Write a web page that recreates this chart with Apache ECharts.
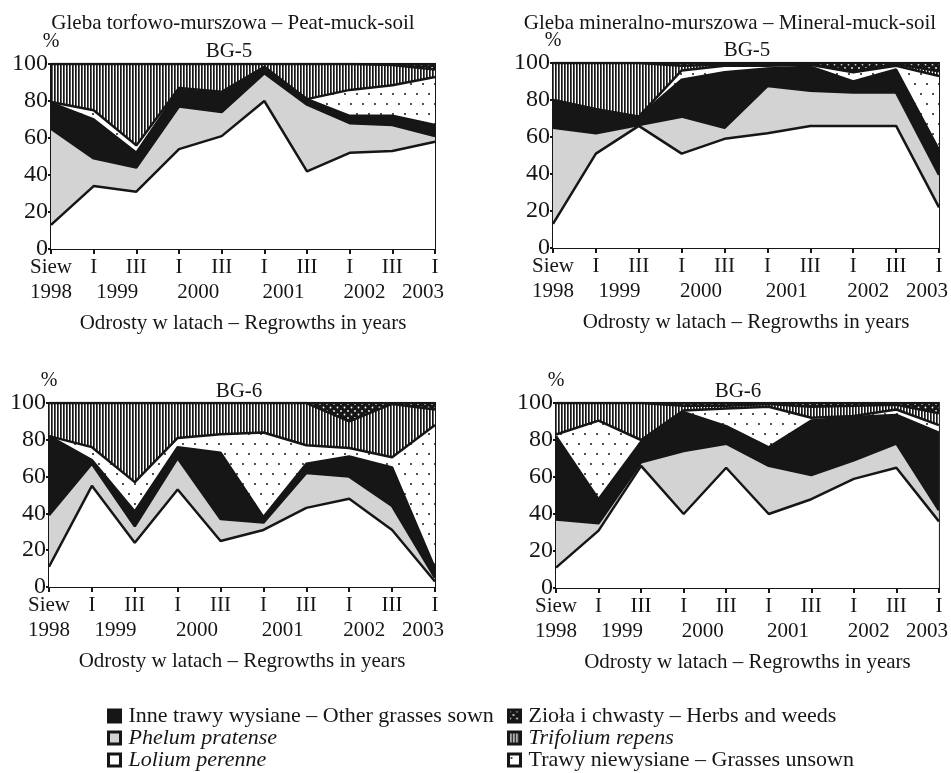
<!DOCTYPE html>
<html><head><meta charset="utf-8">
<script src="https://cdn.jsdelivr.net/npm/echarts@6/dist/echarts.min.js"></script>
<style>html,body{margin:0;padding:0;background:#fff}#c{width:951px;height:773px}</style>
</head><body><div id="c"></div>
<script>
// ---------- DATA ----------
const seriesNames = ['Lolium perenne', 'Phelum pratense', 'Inne trawy wysiane – Other grasses sown',
  'Trawy niewysiane – Grasses unsown', 'Trifolium repens', 'Zioła i chwasty – Herbs and weeds'];
const cutLabels = ['Siew', 'I', 'III', 'I', 'III', 'I', 'III', 'I', 'III', 'I'];
const yearLabels = ['1998', '1999', '2000', '2001', '2002', '2003'];
const yearPos = [0, 1.55, 3.45, 5.45, 7.35, 8.72];

// Peat-muck-soil, BG-5 (share of each component, %)
const peat5Lolium   = [13, 34, 31, 54, 61, 80, 42, 52, 53, 58];
const peat5Phleum   = [52, 15, 13, 23, 13, 15, 36, 16, 14, 3];
const peat5Other    = [14, 21, 8, 9, 10, 3, 3, 4, 5, 6];
const peat5Unsown   = [0.5, 5, 4, 1, 1, 0.5, 0, 14, 16.5, 26];
const peat5Trifol   = [20.5, 25, 44, 13, 15, 1.5, 19, 14, 11, 4];
const peat5Herbs    = [0, 0, 0, 0, 0, 0, 0, 0, 0.5, 3];

// Mineral-muck-soil, BG-5
const min5Lolium    = [13, 51, 66, 51, 59, 62, 66, 66, 66, 22];
const min5Phleum    = [52, 11, 0.5, 20, 6, 25.5, 19, 18, 18, 17.5];
const min5Other     = [15, 13, 4.5, 20, 30, 9.5, 13, 6, 12.5, 13.5];
const min5Unsown    = [0, 0, 0, 5, 3.5, 1.5, 1, 5, 2, 40];
const min5Trifol    = [20, 25, 29, 2.5, 0.5, 1, 0.5, 0.5, 1, 2.5];
const min5Herbs     = [0, 0, 0, 1.5, 1, 0.5, 0.5, 4.5, 0.5, 4.5];

// Peat-muck-soil, BG-6
const peat6Lolium   = [11, 55, 24, 53, 25, 31, 43, 48, 31, 3];
const peat6Phleum   = [28, 12, 9, 17, 12, 4, 19, 12, 13, 2];
const peat6Other    = [43, 2, 8, 6, 36, 3, 5, 11, 21, 5];
const peat6Unsown   = [0, 7, 16, 5, 10, 46, 10, 4.5, 5.5, 78];
const peat6Trifol   = [18, 24, 43, 19, 17, 16, 23, 14.5, 29, 8.5];
const peat6Herbs    = [0, 0, 0, 0, 0, 0, 0, 10, 0.5, 3.5];

// Mineral-muck-soil, BG-6
const min6Lolium    = [11, 31, 66, 40, 65, 40, 48, 59, 65, 36];
const min6Phleum    = [26, 4, 2, 34, 13, 26, 13, 10, 13, 6];
const min6Other     = [45, 13, 11, 21, 9.5, 10, 29.5, 23.5, 15.5, 42];
const min6Unsown    = [1, 42.5, 1, 1, 9.5, 22, 1.5, 0.5, 3, 4];
const min6Trifol    = [17, 9.5, 20, 2.5, 1.5, 1.5, 6, 5.5, 2.5, 6.5];
const min6Herbs     = [0, 0, 0, 1.5, 1.5, 0.5, 2, 1.5, 1, 5.5];

const panelTitles = ['BG-5', 'BG-5', 'BG-6', 'BG-6'];
const soilTitles = ['Gleba torfowo-murszowa – Peat-muck-soil', 'Gleba mineralno-murszowa – Mineral-muck-soil'];
const xName = 'Odrosty w latach – Regrowths in years';

// ---------- STYLE ----------
const INK = '#161616';
const FONT = '"Liberation Serif", "Times New Roman", serif';

function tile(w, h, bg, draw) {
  const c = document.createElement('canvas');
  c.width = w; c.height = h;
  const g = c.getContext('2d');
  g.fillStyle = bg; g.fillRect(0, 0, w, h);
  draw(g);
  return { image: c, repeat: 'repeat' };
}
function dot(g, x, y, r, col) { g.fillStyle = col; g.beginPath(); g.arc(x, y, r, 0, Math.PI * 2); g.fill(); }

const fills = [
  '#ffffff',
  '#d3d3d3',
  INK,
  tile(12, 20, '#ffffff', g => { dot(g, 3, 4, 1, INK); dot(g, 9, 14, 1, INK); }),
  tile(3, 4, '#ffffff', g => { g.fillStyle = INK; g.fillRect(0, 0, 1.7, 4); }),
  tile(7, 7, INK, g => { dot(g, 1.5, 1.5, 0.9, '#fff'); dot(g, 5, 5, 0.9, '#fff'); })
];

const panelData = [
  [peat5Lolium, peat5Phleum, peat5Other, peat5Unsown, peat5Trifol, peat5Herbs],
  [min5Lolium, min5Phleum, min5Other, min5Unsown, min5Trifol, min5Herbs],
  [peat6Lolium, peat6Phleum, peat6Other, peat6Unsown, peat6Trifol, peat6Herbs],
  [min6Lolium, min6Phleum, min6Other, min6Unsown, min6Trifol, min6Herbs]
];

const grids = [
  { left: 51, top: 64, width: 384, height: 185 },
  { left: 553, top: 63, width: 386, height: 185 },
  { left: 49, top: 403, width: 386, height: 184 },
  { left: 556, top: 403, width: 384, height: 185 }
];

const txt = { fontFamily: FONT, color: INK, fontSize: 21 };
const LFS = 22;

const option = {
  animation: false,
  backgroundColor: '#fff',
  textStyle: { fontFamily: FONT, color: INK },
  title: [
    { text: soilTitles[0], left: 233, top: 13 },
    { text: soilTitles[1], left: 730, top: 13 },
    { text: panelTitles[0], left: 229, top: 41 },
    { text: panelTitles[1], left: 747, top: 40 },
    { text: panelTitles[2], left: 239, top: 381 },
    { text: panelTitles[3], left: 738, top: 381 }
  ].map(t => Object.assign(t, { textAlign: 'center', padding: 0,
    textStyle: Object.assign({ fontWeight: 'normal' }, txt) })),
  grid: grids.map(g => Object.assign({ show: true, borderColor: INK, borderWidth: 2,
    backgroundColor: 'transparent', containLabel: false }, g)),
  xAxis: [],
  yAxis: [],
  series: [],
  legend: [
    { data: [2, 1, 0], left: 107, top: 705 },
    { data: [5, 4, 3], left: 507, top: 705 }
  ].map(l => ({
    orient: 'vertical', left: l.left, top: l.top, padding: 0, itemGap: 0,
    itemWidth: 12, itemHeight: 12, icon: 'rect', selectedMode: false,
    itemStyle: { borderColor: INK, borderWidth: 3 },
    textStyle: { fontFamily: FONT, fontSize: LFS, color: INK, lineHeight: 22,
      rich: {
        it: { fontStyle: 'italic', fontFamily: FONT, fontSize: LFS, color: INK, lineHeight: 22, padding: [0, 0, 0, 3] },
        n: { fontFamily: FONT, fontSize: LFS, color: INK, lineHeight: 22, padding: [0, 0, 0, 3] }
      } },
    formatter: n => (n === seriesNames[0] || n === seriesNames[1] || n === seriesNames[4]) ? '{it|' + n + '}' : '{n|' + n + '}',
    data: l.data.map(j => ({ name: seriesNames[j], itemStyle: { color: fills[j], borderColor: INK, borderWidth: 3 } }))
  }))
};

grids.forEach((g, i) => {
  option.xAxis.push({
    type: 'category', gridIndex: i, data: cutLabels, boundaryGap: false, position: 'bottom',
    axisLine: { lineStyle: { color: INK, width: 2 } },
    axisTick: { show: true, interval: 0, length: 5, lineStyle: { color: INK, width: 2 } },
    axisLabel: Object.assign({ interval: 0, margin: 8 }, txt),
    splitLine: { show: false },
    name: xName, nameLocation: 'middle', nameGap: 64, nameTextStyle: txt
  });
  option.xAxis.push({
    type: 'value', gridIndex: i, min: 0, max: 9, position: 'bottom', offset: 25,
    axisLine: { show: false }, axisTick: { show: false }, splitLine: { show: false },
    axisLabel: Object.assign({
      customValues: yearPos, margin: 8,
      formatter: v => { const k = yearPos.findIndex(p => Math.abs(p - v) < 1e-6); return k >= 0 ? yearLabels[k] : ''; }
    }, txt)
  });
  option.yAxis.push({
    type: 'value', gridIndex: i, min: 0, max: 100, interval: 20,
    axisLine: { show: true, lineStyle: { color: INK, width: 2 } },
    axisTick: { show: true, length: 3, lineStyle: { color: INK, width: 2 } },
    axisLabel: Object.assign({ margin: 3 }, txt, { fontSize: 24 }),
    splitLine: { show: false },
    name: '%', nameLocation: 'end', nameGap: 7, nameTextStyle: Object.assign({}, txt, { fontSize: 20 })
  });
  panelData[i].forEach((arr, j) => {
    option.series.push({
      type: 'line', name: seriesNames[j], xAxisIndex: 2 * i, yAxisIndex: i, stack: 'p' + i,
      data: arr, symbol: 'none', silent: true, z: 10 - j,
      lineStyle: { color: INK, width: 2.5 },
      itemStyle: { color: fills[j] },
      areaStyle: { color: fills[j], opacity: 1 },
      emphasis: { disabled: true }
    });
  });
});

const chart = echarts.init(document.getElementById('c'), null, { renderer: 'canvas' });
chart.setOption(option);
</script></body></html>
